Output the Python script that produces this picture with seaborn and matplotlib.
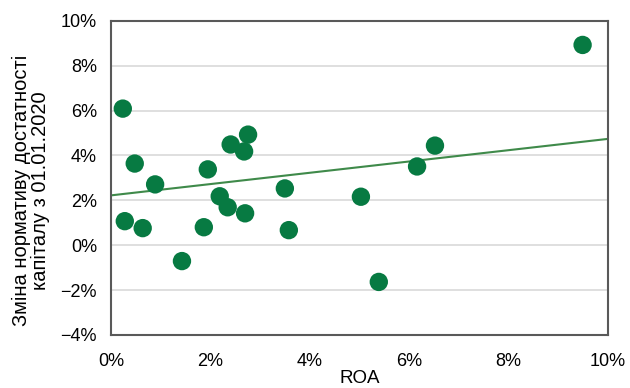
import numpy as np
import pandas as pd
import matplotlib
matplotlib.use("Agg")
import matplotlib.pyplot as plt
import seaborn as sns
from matplotlib.ticker import PercentFormatter, MultipleLocator

# ROA (%) of each bank and change in capital adequacy ratio (%) since 01.01.2020
roa = [0.24, 0.28, 0.48, 0.64, 0.89, 1.43, 1.87, 1.95, 2.19, 2.35, 2.41,
       2.68, 2.70, 2.76, 3.50, 3.58, 5.03, 5.39, 6.16, 6.52, 9.49]
capital_change = [6.09, 1.07, 3.64, 0.76, 2.71, -0.71, 0.80, 3.38, 2.18, 1.69, 4.49,
                  4.18, 1.42, 4.93, 2.53, 0.67, 2.16, -1.64, 3.51, 4.44, 8.93]

# Linear trend line endpoints (ROA %, change %)
trend_roa = [0.0, 10.0]
trend_change = [2.22, 4.74]

x_label = "ROA"
y_label = "Зміна нормативу достатності\nкапіталу з 01.01.2020"

df = pd.DataFrame({"roa": roa, "change": capital_change})
trend = pd.DataFrame({"roa": trend_roa, "change": trend_change})

sns.set_theme(style="white")
plt.rcParams["font.family"] = ["Liberation Sans", "DejaVu Sans"]

dot_color = "#077A42"
line_color = "#3F8A4A"
spine_color = "#595959"

fig = plt.figure(figsize=(6.3, 3.88), dpi=100)
ax = fig.add_axes([0.176, 0.137, 0.789, 0.809])

ax.grid(axis="y", color="#D9D9D9", linewidth=1.2)
ax.set_axisbelow(True)

sns.lineplot(data=trend, x="roa", y="change", ax=ax, color=line_color,
             linewidth=1.5, zorder=2)
sns.scatterplot(data=df, x="roa", y="change", ax=ax, s=175, color=dot_color,
                edgecolor="none", alpha=1, zorder=3)

ax.set_xlim(0, 10)
ax.set_ylim(-4, 10)
ax.yaxis.set_major_locator(MultipleLocator(2))
ax.xaxis.set_major_locator(MultipleLocator(2))
ax.xaxis.set_major_formatter(PercentFormatter(decimals=0))
ax.yaxis.set_major_formatter(PercentFormatter(decimals=0))

for side in ["left", "right", "top", "bottom"]:
    ax.spines[side].set_visible(True)
    ax.spines[side].set_color(spine_color)
    ax.spines[side].set_linewidth(1.5)

ax.tick_params(axis="both", direction="in", length=4, width=1.2, color=spine_color,
               labelsize=13, labelcolor="#000000")
ax.tick_params(axis="y", pad=10)
ax.tick_params(axis="x", pad=13)

ax.set_xlabel(x_label, fontsize=13.5, color="#000000", labelpad=0, va="baseline")
ax.xaxis.set_label_coords(0.5, -0.153)
ax.set_ylabel(y_label, fontsize=14.5, color="#000000", linespacing=1.0,
              va="center", ha="center")
ax.yaxis.set_label_coords(-0.16, 0.46)

fig.savefig("out.png", dpi=100)
